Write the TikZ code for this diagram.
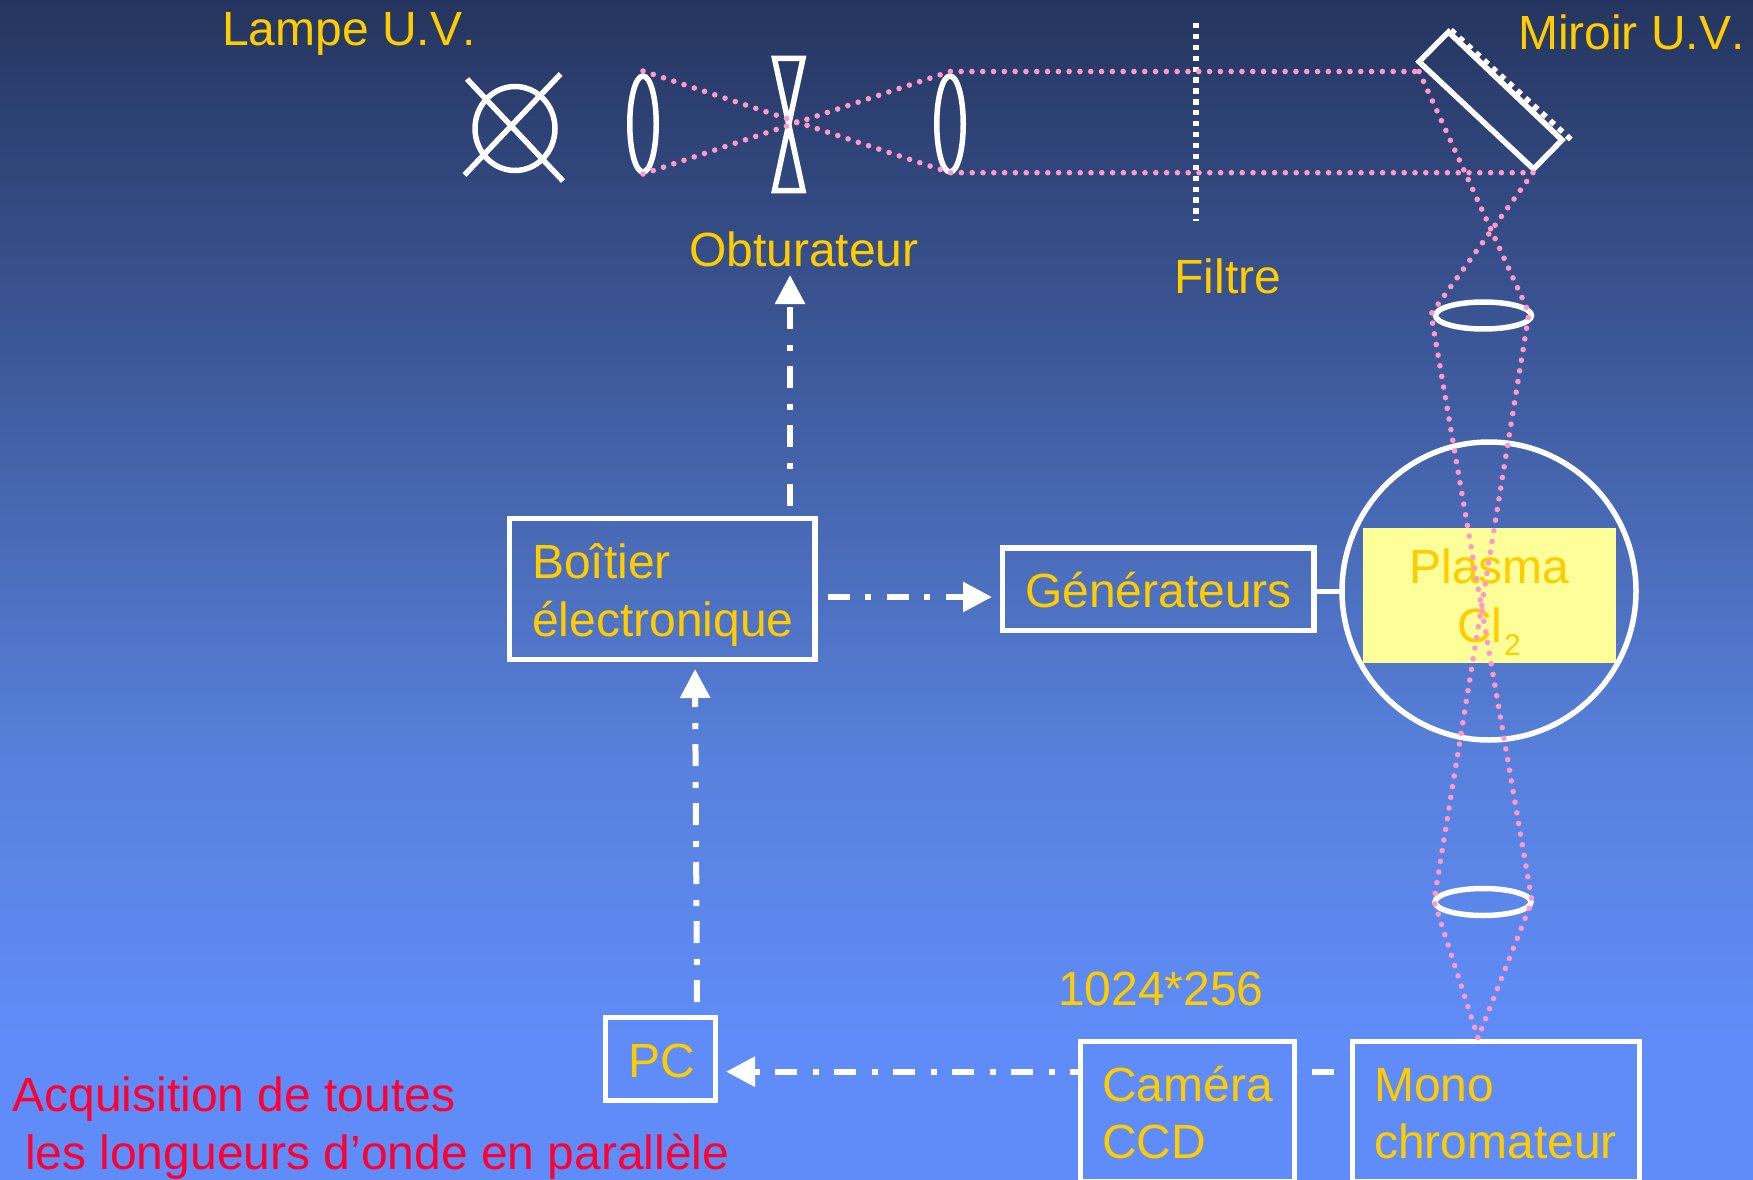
\documentclass[tikz,border=0pt]{standalone}
\usepackage{fontspec}
\setmainfont{Liberation Sans}[Kerning=Off]
\usetikzlibrary{arrows.meta,shapes.geometric}
\definecolor{bgtop}{HTML}{25355F}
\definecolor{bgmid}{HTML}{5881DC}
\definecolor{bgbot}{HTML}{5F8CF8}
\definecolor{txty}{HTML}{FFCC00}
\definecolor{raypink}{HTML}{FF99CC}
\definecolor{plasmay}{HTML}{FFFF99}
\definecolor{txtred}{HTML}{FF0033}
\tikzset{
  x=1pt,y=-1pt,
  lbl/.style={text=txty,font=\fontsize{48}{58}\selectfont,inner sep=0pt,outer sep=0pt,align=left},
  redlbl/.style={lbl,text=txtred},
  boxn/.style={draw=white,line width=5.5pt,rectangle,inner sep=0pt,outer sep=0pt},
  lens/.style={draw=white,line width=5.5pt,ellipse,inner sep=0pt,outer sep=0pt},
  wline/.style={draw=white,line width=5.5pt},
  ray/.style={draw=raypink,line width=5.6pt,line cap=round,dash pattern=on 0pt off 10.8pt},
  ctrl/.style={draw=white,line width=6pt,dash pattern=on 22pt off 15pt on 6pt off 16pt},
  ctrlarrow/.style={ctrl,-{Triangle[length=29pt,width=29pt,fill=white]}},
}
\begin{document}
\begin{tikzpicture}
\useasboundingbox (0,0) rectangle (1753,1180);
% background
\shade[top color=bgtop,bottom color=bgmid,shading angle=0] (0,0) rectangle (1753,760.5);
\shade[top color=bgmid,bottom color=bgbot,shading angle=0] (0,760) rectangle (1753,1040.5);
\fill[bgbot] (0,1040) rectangle (1753,1180);
% lamp
\node[lens,minimum width=80pt,minimum height=84pt] (lamp) at (515,128.5) {};
\coordinate (lampa1) at (467,79); \coordinate (lampa2) at (563,181);
\coordinate (lampb1) at (560.6,74); \coordinate (lampb2) at (464.5,175);
\draw[wline] (lampa1) -- (lampa2);
\draw[wline] (lampb1) -- (lampb2);
% lenses
\node[lens,minimum width=26.5pt,minimum height=96pt] (lensa) at (643,124) {};
\node[lens,minimum width=26.5pt,minimum height=96pt] (lensb) at (950,124) {};
\node[lens,minimum width=96pt,minimum height=27pt] (lensc) at (1483.5,315.5) {};
\node[lens,minimum width=96pt,minimum height=27pt] (lensd) at (1483,902) {};
% shutter
\draw[draw=white,line width=5.5pt,miter limit=20] (774.5,58.5) -- (803,58.5) -- (774.5,190.5) -- (803,190.5) -- cycle;
% filter
\coordinate (filta) at (1195.8,23); \coordinate (filtb) at (1195.8,220.5);
\draw[draw=white,line width=5.7pt,dash pattern=on 5.3pt off 5.6pt] (filta) -- (filtb);
% mirror
\draw[wline,miter limit=10] (1419,61.7) -- (1448.5,32) -- (1562,140) -- (1533.5,169) -- cycle;
\coordinate (mira) at (1451,30); \coordinate (mirb) at (1572,140.5);
\draw[draw=white,line width=5.5pt,dash pattern=on 5.5pt off 5.7pt] (mira) -- (mirb);
% plasma
\node[boxn,draw=none,fill=plasmay,minimum width=253pt,minimum height=135pt] (plasmarect) at (1489.5,595.2) {};
\node[lens,minimum width=294pt,minimum height=298pt] (cell) at (1489,591) {};
\node[lbl,align=center,anchor=base] (plasmaa) at (1489.5,583) {Plasma};
\node[lbl,anchor=base] (plasmab) at (1489,642) {Cl\kern1.5pt\raisebox{-13pt}{\fontsize{30}{30}\selectfont 2}};
% boxes
\node[boxn,minimum width=305.5pt,minimum height=141pt] (boitier) at (662.2,589.2) {};
\node[boxn,minimum width=311.5pt,minimum height=82.5pt] (gen) at (1158.2,589.2) {};
\node[boxn,minimum width=110pt,minimum height=83pt] (pc) at (660.5,1059) {};
\node[boxn,minimum width=214pt,minimum height=140.5pt] (camera) at (1187.5,1111.75) {};
\node[boxn,minimum width=287pt,minimum height=140.5pt] (mono) at (1496,1111.75) {};
% box texts
\node[lbl,anchor=base west] (boitiera) at (532,578) {Boîtier};
\node[lbl,anchor=base west] (boitierb) at (532,636) {électronique};
\node[lbl,anchor=base west] (gent) at (1025,607) {Générateurs};
\node[lbl,anchor=base west] (pct) at (628.5,1077) {PC};
\node[lbl,anchor=base west] (cama) at (1102,1101) {Caméra};
\node[lbl,anchor=base west] (camb) at (1102,1158.5) {CCD};
\node[lbl,anchor=base west] (monoa) at (1374,1101) {Mono};
\node[lbl,anchor=base west] (monob) at (1374,1158.5) {chromateur};
% labels
\node[lbl,anchor=base west] (lampl) at (222,46) {Lampe U.V.};
\node[lbl,anchor=base west] (obt) at (689,266) {Obturateur};
\node[lbl,anchor=base west] (filt) at (1174.5,293) {Filtre};
\node[lbl,anchor=base west] (mirl) at (1518,50) {Miroir U.V.};
\node[lbl,anchor=base west] (res) at (1058,1005) {1024*256};
\node[redlbl,anchor=base west] (reda) at (12.5,1111) {Acquisition de toutes};
\node[redlbl,anchor=base west] (redb) at (25,1169) {les longueurs d’onde en parallèle};
% rays
\coordinate (r1) at (643,71); \coordinate (r2) at (643,174);
\coordinate (r3) at (950,71.5); \coordinate (r4) at (950,172.7);
\coordinate (r5) at (1419,71.5); \coordinate (r6) at (1533,172.7);
\coordinate (r7) at (1529,313); \coordinate (r8) at (1431,314);
\coordinate (r9) at (1532,901); \coordinate (r10) at (1434,901);
\coordinate (r11) at (1478,1038);
\draw[ray] (r1) -- (r4) -- (r6);
\draw[ray] (r2) -- (r3) -- (r5);
\draw[ray] (r5) -- (r7) -- (r10) -- (r11);
\draw[ray] (r6) -- (r8) -- (r9) -- (r11);
% link
\draw[draw=white,line width=5pt] (gen.east |- cell.west) -- (cell.west);
% control lines
\coordinate (b1) at (790,506); \coordinate (o1) at (790,275);
\coordinate (b2) at (828,597); \coordinate (g1) at (992,597);
\coordinate (p1) at (697,1002); \coordinate (b3) at (695,669);
\coordinate (c1) at (1078,1071.7); \coordinate (p2) at (726,1071.7);
\coordinate (m1) at (1350,1071.7); \coordinate (c2) at (1297,1071.7);
\draw[ctrlarrow] (b1) -- (o1);
\draw[ctrlarrow] (b2) -- (g1);
\draw[ctrlarrow] (p1) -- (b3);
\draw[ctrlarrow,dash phase=14pt] (c1) -- (p2);
\draw[ctrl,dash phase=43pt] (m1) -- (c2);
\end{tikzpicture}
\end{document}
